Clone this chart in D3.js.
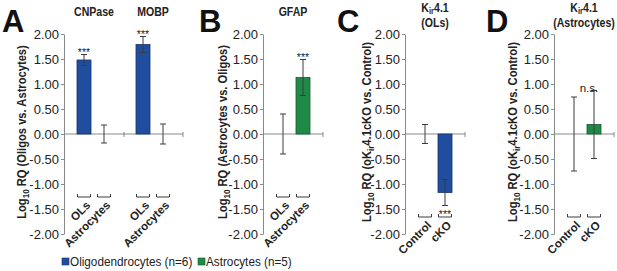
<!DOCTYPE html>
<html>
<head>
<meta charset="utf-8">
<script src="https://cdn.jsdelivr.net/npm/d3@7"></script>
<style>
  body { margin: 0; background: #fff; }
  svg { display: block; font-family: "Liberation Sans", Arial, sans-serif; }
</style>
</head>
<body>
<div id="chart"></div>
<script>
// values (log10 RQ, mean and error)
const yTicks = [2, 1.5, 1, 0.5, 0, -0.5, -1, -1.5, -2];
const cellTypes = ["OLs", "Astrocytes"];
const genotypes = ["Control", "cKO"];

// A: oligos vs astrocytes
const cnpaseMean = [1.48, 0];
const cnpaseErr = [0.11, 0.18];
const cnpaseMarks = ["***", ""];
const mobpMean = [1.79, 0];
const mobpErr = [0.16, 0.20];
const mobpMarks = ["***", ""];

// B: astrocytes vs oligos
const gfapMean = [0, 1.13];
const gfapErr = [0.40, 0.36];
const gfapMarks = ["", "***"];

// C: Kir4.1 in OLs
const kirOlMean = [0, -1.17];
const kirOlErr = [0.19, 0.26];
const kirOlMarks = ["", "***"];

// D: Kir4.1 in astrocytes
const kirAstMean = [0, 0.19];
const kirAstErr = [0.74, 0.68];
const kirAstMarks = ["", "n.s."];

const legendLabels = ["Oligodendrocytes (n=6)", "Astrocytes (n=5)"];

const width = 617, height = 271;
const blue = "#1f4e9f", green = "#1f8a47";
const blueEdge = "#17336b", greenEdge = "#145c2f";
const axisColor = "#8a8a8a";
const inkColor = "#222";
const errColor = "#3c3c3c";

const svg = d3.select("#chart").append("svg")
  .attr("width", width)
  .attr("height", height);

const y = d3.scaleLinear().domain([-2, 2]).range([234, 34]);

// small rich text helper (subscripts)
const rich = (sel, parts, size, shift) => {
  parts.forEach((p, i) => {
    const prevSub = i > 0 && parts[i - 1].sub;
    sel.append("tspan")
      .attr("font-size", p.sub ? size * 0.72 : size)
      .attr("dy", p.sub ? shift : (prevSub ? -shift : 0))
      .text(p.t);
  });
};

const charts = [
  { x0: 64, cats: cellTypes, mean: cnpaseMean, err: cnpaseErr, marks: cnpaseMarks,
    fills: [blue, green], edges: [blueEdge, greenEdge], title: [[{ t: "CNPase" }]], labelY: 197, yAxis: true },
  { x0: 123, cats: cellTypes, mean: mobpMean, err: mobpErr, marks: mobpMarks,
    fills: [blue, green], edges: [blueEdge, greenEdge], title: [[{ t: "MOBP" }]], labelY: 197, yAxis: false },
  { x0: 263, cats: cellTypes, mean: gfapMean, err: gfapErr, marks: gfapMarks,
    fills: [blue, green], edges: [blueEdge, greenEdge], title: [[{ t: "GFAP" }]], labelY: 197, yAxis: true },
  { x0: 405, cats: genotypes, mean: kirOlMean, err: kirOlErr, marks: kirOlMarks,
    fills: [blue, blue], edges: [blueEdge, blueEdge],
    title: [[{ t: "K" }, { t: "ir", sub: true }, { t: "4.1" }], [{ t: "(OLs)" }]], labelY: 217, yAxis: true },
  { x0: 554, cats: genotypes, mean: kirAstMean, err: kirAstErr, marks: kirAstMarks,
    fills: [green, green], edges: [greenEdge, greenEdge],
    title: [[{ t: "K" }, { t: "ir", sub: true }, { t: "4.1" }], [{ t: "(Astrocytes)" }]], labelY: 217, yAxis: true }
];

charts.forEach((c) => {
  const x = d3.scaleBand()
    .domain(c.cats)
    .range([c.x0 + 10, c.x0 + 50])
    .paddingInner(0.3)
    .paddingOuter(0.15);
  const g = svg.append("g");

  if (c.yAxis) {
    const ax = g.append("g")
      .attr("transform", `translate(${c.x0},0)`)
      .call(d3.axisLeft(y).tickValues(yTicks).tickSize(3).tickSizeOuter(0).tickPadding(2)
        .tickFormat((d) => d.toFixed(2)));
    ax.attr("font-family", null).attr("font-size", null);
    ax.select(".domain").attr("stroke", axisColor);
    ax.selectAll(".tick line").attr("stroke", axisColor);
    ax.selectAll(".tick text").attr("font-size", 13).attr("fill", inkColor);
  }

  // zero line
  g.append("line")
    .attr("x1", c.x0).attr("x2", c.x0 + 60)
    .attr("y1", y(0)).attr("y2", y(0))
    .attr("stroke", axisColor);
  g.append("line")
    .attr("x1", c.x0 + 60).attr("x2", c.x0 + 60)
    .attr("y1", y(0) - 2).attr("y2", y(0) + 3)
    .attr("stroke", axisColor);

  const data = c.cats.map((k, i) => ({ k, m: c.mean[i], e: c.err[i], mark: c.marks[i], fill: c.fills[i], edge: c.edges[i] }));

  g.selectAll("rect.bar").data(data).enter().append("rect")
    .attr("class", "bar")
    .attr("x", (d) => x(d.k))
    .attr("width", x.bandwidth())
    .attr("y", (d) => y(Math.max(0, d.m)))
    .attr("height", (d) => Math.abs(y(d.m) - y(0)))
    .attr("fill", (d) => d.fill)
    .attr("stroke", (d) => d.edge)
    .attr("stroke-width", 0.8);

  const cx = (d) => x(d.k) + x.bandwidth() / 2;
  const eb = g.selectAll("g.err").data(data).enter().append("g").attr("class", "err")
    .attr("stroke", errColor).attr("stroke-width", 1);
  eb.append("line").attr("x1", cx).attr("x2", cx)
    .attr("y1", (d) => y(d.m - d.e)).attr("y2", (d) => y(d.m + d.e));
  eb.append("line").attr("x1", (d) => cx(d) - 3).attr("x2", (d) => cx(d) + 3)
    .attr("y1", (d) => y(d.m + d.e)).attr("y2", (d) => y(d.m + d.e));
  eb.append("line").attr("x1", (d) => cx(d) - 3).attr("x2", (d) => cx(d) + 3)
    .attr("y1", (d) => y(d.m - d.e)).attr("y2", (d) => y(d.m - d.e));

  // significance marks
  g.selectAll("text.mark").data(data.filter((d) => d.mark)).enter().append("text")
    .attr("class", "mark")
    .attr("text-anchor", "middle")
    .attr("font-size", d => d.mark === "n.s." ? 11.5 : 10.5)
    .attr("fill", inkColor)
    .attr("x", (d) => d.mark === "n.s." ? cx(d) - 5 : cx(d))
    .attr("y", (d) => d.m < 0 ? y(d.m - d.e) + 12 : y(d.m + d.e) + (d.mark === "n.s." ? 1 : 1.5))
    .text((d) => d.mark);

  // category brackets
  g.selectAll("path.brk").data(data).enter().append("path")
    .attr("class", "brk")
    .attr("fill", "none")
    .attr("stroke", errColor)
    .attr("d", (d) => `M${cx(d) - 6.5},${c.labelY - 3}V${c.labelY}H${cx(d) + 6.5}V${c.labelY - 3}`);

  // rotated category labels
  g.selectAll("text.cat").data(data).enter().append("text")
    .attr("class", "cat")
    .attr("text-anchor", "end")
    .attr("font-size", 11.5)
    .attr("font-weight", "bold")
    .attr("fill", inkColor)
    .attr("transform", (d) => `translate(${cx(d) + 7},${c.labelY + 9}) rotate(-45)`)
    .text((d) => d.k);

  // panel title
  c.title.forEach((line, i) => {
    const t = g.append("text")
      .attr("text-anchor", "middle")
      .attr("font-weight", "bold")
      .attr("fill", inkColor)
      .attr("transform", `translate(${c.x0 + 30},${c.title.length > 1 ? 12 + i * 15 : 16}) scale(0.88,1)`);
    rich(t, line, 12, 1.5);
  });
});

// y axis titles
const yTitles = [
  { x: 26, parts: [{ t: "Log" }, { t: "10", sub: true }, { t: " RQ (Oligos vs. Astrocytes)" }] },
  { x: 227, parts: [{ t: "Log" }, { t: "10", sub: true }, { t: " RQ (Astrocytes vs. Oligos)" }] },
  { x: 371, parts: [{ t: "Log" }, { t: "10", sub: true }, { t: " RQ (oK" }, { t: "ir", sub: true }, { t: "4.1cKO vs. Control)" }] },
  { x: 517, parts: [{ t: "Log" }, { t: "10", sub: true }, { t: " RQ (oK" }, { t: "ir", sub: true }, { t: "4.1cKO vs. Control)" }] }
];
yTitles.forEach((d) => {
  const t = svg.append("text")
    .attr("text-anchor", "middle")
    .attr("font-weight", "bold")
    .attr("fill", inkColor)
    .attr("transform", `translate(${d.x},132) rotate(-90) scale(0.86,1)`);
  rich(t, d.parts, 13, 3);
});

// panel letters
const letters = [["A", 2], ["B", 199], ["C", 337], ["D", 486]];
svg.selectAll("text.letter").data(letters).enter().append("text")
  .attr("class", "letter")
  .attr("x", (d) => d[1])
  .attr("y", 32)
  .attr("font-size", 31)
  .attr("font-weight", "bold")
  .attr("fill", "#111")
  .text((d) => d[0]);

// legend
const legend = svg.append("g");
const legendX = [62, 198];
[blue, green].forEach((col, i) => {
  legend.append("rect")
    .attr("x", legendX[i]).attr("y", 258)
    .attr("width", 7).attr("height", 7)
    .attr("fill", col)
    .attr("stroke", i ? greenEdge : blueEdge)
    .attr("stroke-width", 0.6);
  legend.append("text")
    .attr("transform", `translate(${legendX[i] + 8},266) scale(0.87,1)`)
    .attr("font-size", 13.5)
    .attr("fill", inkColor)
    .text(legendLabels[i]);
});
</script>
</body>
</html>
